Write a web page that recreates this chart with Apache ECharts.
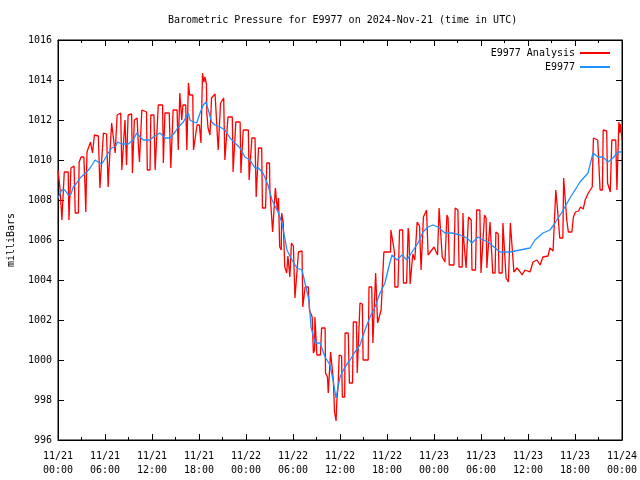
<!DOCTYPE html>
<html>
<head>
<meta charset="utf-8">
<script src="https://cdn.jsdelivr.net/npm/echarts@6/dist/echarts.min.js"></script>
<style>html,body{margin:0;padding:0;background:#fff}#c{width:640px;height:480px}</style>
</head>
<body>
<div id="c"></div>
<script>
// Hours since 2024-11-21 00:00 UTC, pressure in milliBars
var analysisSeries = [[0,1009.5],[0.13,1009.5],[0.25,1008.6],[0.5,1007.0],[0.7,1007.0],[0.8,1009.4],[1.3,1009.4],[1.4,1007.0],[1.55,1007.0],[1.65,1009.6],[2.05,1009.7],[2.2,1007.35],[2.6,1007.35],[2.7,1009.9],[2.95,1010.15],[3.3,1010.15],[3.45,1008.65],[3.55,1007.4],[3.7,1010.4],[4.15,1010.9],[4.4,1010.35],[4.65,1011.25],[5.15,1011.2],[5.35,1008.6],[5.55,1008.6],[5.8,1011.35],[6.2,1011.3],[6.4,1008.65],[6.5,1009.5],[6.85,1011.85],[7.1,1011.8],[7.3,1010.35],[7.55,1012.25],[8.0,1012.35],[8.15,1009.5],[8.35,1009.5],[8.55,1012.0],[8.75,1009.75],[8.95,1012.25],[9.4,1012.3],[9.5,1009.35],[9.65,1009.35],[9.75,1012.0],[10.1,1012.1],[10.25,1010.8],[10.4,1009.9],[10.7,1012.5],[11.3,1012.4],[11.4,1009.5],[11.75,1009.5],[11.85,1012.25],[12.25,1012.25],[12.4,1009.5],[12.65,1009.5],[12.8,1012.75],[13.35,1012.75],[13.45,1009.85],[13.55,1009.85],[13.65,1012.35],[14.2,1012.35],[14.4,1009.6],[14.6,1009.6],[14.7,1012.5],[15.2,1012.5],[15.35,1010.5],[15.5,1010.5],[15.55,1013.35],[15.8,1012.0],[15.95,1012.75],[16.3,1012.75],[16.45,1010.5],[16.55,1010.5],[16.65,1013.85],[16.8,1013.25],[17.2,1013.25],[17.3,1010.5],[17.5,1010.5],[17.75,1011.75],[18.05,1011.75],[18.25,1010.85],[18.45,1014.35],[18.6,1013.9],[18.75,1014.15],[18.95,1013.8],[19.0,1012.35],[19.15,1011.6],[19.4,1011.25],[19.6,1013.1],[20.05,1013.3],[20.45,1010.5],[20.6,1010.5],[20.75,1012.85],[21.15,1013.1],[21.3,1010.0],[21.55,1010.0],[21.7,1012.15],[22.25,1012.15],[22.35,1009.4],[22.6,1009.4],[22.7,1011.9],[23.25,1011.9],[23.35,1009.35],[23.55,1009.35],[23.65,1011.5],[24.3,1011.5],[24.4,1009.0],[24.65,1009.0],[24.75,1011.1],[25.15,1011.1],[25.3,1008.15],[25.45,1008.15],[25.6,1010.6],[26.0,1010.6],[26.1,1007.6],[26.5,1007.6],[26.65,1009.85],[27.0,1009.85],[27.05,1008.5],[27.25,1008.5],[27.4,1006.4],[27.65,1006.4],[27.75,1008.6],[27.95,1008.5],[28.0,1007.5],[28.15,1008.1],[28.3,1005.65],[28.5,1005.5],[28.55,1007.35],[28.75,1006.9],[28.95,1004.65],[29.2,1004.35],[29.35,1005.2],[29.6,1004.15],[29.8,1005.85],[30.05,1005.7],[30.25,1003.1],[30.45,1003.1],[30.7,1005.4],[31.15,1005.45],[31.25,1002.65],[31.4,1002.6],[31.55,1003.65],[31.95,1003.65],[32.1,1002.5],[32.25,1002.5],[32.45,1002.15],[32.6,1000.35],[32.75,1000.5],[32.8,1002.15],[33.0,1002.15],[33.05,1000.25],[33.5,1000.25],[33.65,1001.6],[34.1,1001.6],[34.15,999.35],[34.4,999.15],[34.5,998.35],[34.65,998.35],[34.8,1000.4],[34.95,1000.4],[35.15,999.0],[35.3,997.4],[35.5,996.95],[35.6,998.0],[35.75,998.65],[35.9,1000.25],[36.2,1000.2],[36.3,998.15],[36.6,998.15],[36.65,1001.35],[37.05,1001.35],[37.2,998.85],[37.6,998.85],[37.7,1001.9],[38.1,1001.9],[38.2,999.35],[38.45,999.35],[38.55,1002.85],[38.85,1002.8],[38.95,1000.0],[39.6,1000.0],[39.7,1003.65],[40.05,1003.65],[40.2,1000.85],[40.4,1000.85],[40.55,1004.35],[40.75,1004.35],[40.8,1001.85],[41.05,1001.85],[41.25,1002.5],[41.45,1002.5],[41.6,1005.4],[42.45,1005.4],[42.5,1006.5],[42.75,1006.4],[42.95,1005.4],[43.0,1003.65],[43.4,1003.65],[43.6,1006.5],[44.0,1006.5],[44.1,1003.85],[44.5,1003.85],[44.7,1006.6],[44.8,1006.3],[44.95,1003.8],[45.2,1003.8],[45.3,1005.3],[45.55,1005.0],[45.85,1006.9],[46.15,1006.7],[46.35,1004.5],[46.55,1004.5],[46.65,1007.15],[47.05,1007.5],[47.25,1005.25],[47.5,1005.25],[48.0,1005.65],[48.45,1005.25],[48.65,1007.6],[48.9,1007.6],[49.05,1005.15],[49.4,1004.9],[49.65,1007.25],[49.8,1007.1],[49.95,1004.75],[50.55,1004.75],[50.7,1007.6],[51.05,1007.5],[51.2,1004.65],[51.6,1004.65],[51.7,1007.35],[51.8,1006.0],[52.1,1004.6],[52.3,1004.6],[52.4,1007.15],[52.75,1007.0],[52.85,1004.5],[53.3,1004.5],[53.45,1007.5],[53.85,1007.5],[54.0,1004.35],[54.25,1004.4],[54.45,1007.25],[54.65,1007.1],[54.75,1004.6],[55.0,1004.6],[55.15,1006.9],[55.4,1006.8],[55.5,1004.35],[55.8,1004.35],[55.9,1006.4],[56.2,1006.3],[56.3,1004.35],[56.7,1004.35],[56.8,1006.85],[57.05,1006.85],[57.2,1004.1],[57.5,1003.9],[57.75,1006.85],[58.0,1006.8],[58.2,1004.4],[58.6,1004.6],[59.0,1004.4],[59.25,1004.25],[59.6,1004.5],[60.25,1004.4],[60.65,1004.9],[61.15,1005.0],[61.55,1004.75],[61.9,1005.15],[62.15,1005.25],[62.55,1005.2],[62.8,1005.6],[63.2,1005.45],[63.45,1005.45],[63.55,1008.5],[63.7,1008.5],[63.85,1007.15],[64.05,1006.1],[64.45,1006.1],[64.55,1009.1],[64.8,1009.15],[64.95,1007.0],[65.15,1006.4],[65.6,1006.4],[65.8,1007.15],[66.05,1007.4],[66.45,1007.45],[66.7,1007.65],[67.05,1007.55],[67.3,1008.0],[67.7,1008.35],[68.2,1008.65],[68.35,1011.1],[68.9,1011.0],[69.2,1008.5],[69.5,1008.5],[69.6,1011.5],[70.05,1011.45],[70.15,1008.85],[70.5,1008.4],[70.7,1011.0],[71.2,1011.0],[71.35,1008.5],[71.45,1008.5],[71.6,1011.9],[71.7,1011.35],[71.8,1011.8],[72,1011.0]];

var stationSeries = [[0,1008.1],[0.47,1008.5],[0.89,1008.5],[1.31,1008.25],[1.66,1008.3],[1.95,1008.65],[2.39,1008.85],[2.81,1009.1],[3.23,1009.25],[3.66,1009.4],[4.09,1009.6],[4.51,1009.85],[4.72,1010.0],[5.14,1009.9],[5.58,1009.8],[5.91,1010.0],[6.42,1010.35],[6.86,1010.6],[7.28,1010.65],[7.62,1010.9],[8.13,1010.8],[8.97,1010.8],[9.19,1010.75],[9.61,1011.0],[10.05,1011.35],[10.47,1011.15],[10.89,1011.0],[11.32,1011.0],[11.74,1011.0],[12.17,1011.15],[12.6,1011.25],[13.02,1011.35],[13.66,1011.1],[14.3,1011.1],[14.94,1011.4],[15.36,1011.65],[16.0,1011.9],[16.63,1012.35],[16.85,1012.0],[17.27,1011.9],[17.71,1011.85],[18.13,1012.35],[18.55,1012.75],[18.89,1012.9],[19.19,1012.5],[19.62,1011.9],[20.04,1011.75],[20.68,1011.65],[21.32,1011.5],[21.96,1011.1],[22.6,1010.85],[23.23,1010.6],[23.87,1010.15],[24.51,1010.0],[25.15,1009.6],[25.57,1009.6],[26.17,1009.35],[26.81,1008.75],[27.32,1008.0],[28.09,1007.4],[28.6,1006.85],[29.23,1005.5],[29.87,1005.0],[30.51,1004.6],[31.15,1004.5],[31.53,1003.85],[32.04,1003.0],[32.3,1001.65],[32.81,1000.85],[33.45,1000.85],[34.09,1000.15],[34.72,999.75],[35.11,999.0],[35.49,998.1],[36.0,999.15],[36.64,999.65],[37.28,1000.0],[37.91,1000.4],[38.55,1000.75],[39.19,1001.5],[39.83,1002.15],[40.47,1002.65],[41.11,1003.35],[41.74,1003.85],[42.13,1004.5],[42.64,1005.25],[43.28,1005.0],[43.91,1005.25],[44.55,1005.0],[45.19,1005.4],[45.96,1005.85],[46.6,1006.4],[47.23,1006.65],[47.87,1006.75],[48.51,1006.65],[49.4,1006.35],[50.3,1006.35],[51.32,1006.25],[52.21,1006.1],[52.85,1005.85],[53.62,1006.15],[54.26,1006.0],[54.89,1005.9],[56.43,1005.4],[57.7,1005.4],[58.98,1005.5],[60.26,1005.6],[60.89,1006.0],[61.91,1006.35],[62.81,1006.5],[63.45,1006.85],[64.34,1007.4],[65.36,1008.1],[66.64,1008.9],[67.66,1009.35],[68.3,1010.35],[68.94,1010.15],[69.57,1010.15],[70.21,1009.9],[70.85,1010.1],[71.49,1010.4],[72,1010.4]];

var xTickLabels = ['11/21\n00:00','11/21\n06:00','11/21\n12:00','11/21\n18:00','11/22\n00:00','11/22\n06:00','11/22\n12:00','11/22\n18:00','11/23\n00:00','11/23\n06:00','11/23\n12:00','11/23\n18:00','11/24\n00:00'];
var seriesNames = ['E9977 Analysis', 'E9977'];
var titleText = 'Barometric Pressure for E9977 on 2024-Nov-21 (time in UTC)';

var FONT = 'DejaVu Sans Mono';
var chart = echarts.init(document.getElementById('c'), null, {renderer: 'canvas'});
var axisCommon = {
  axisLine: {show: true, onZero: false, lineStyle: {color: '#000', width: 1}},
  axisTick: {show: true, inside: true, length: 6, lineStyle: {color: '#000'}},
  minorTick: {show: true, splitNumber: 2, length: 3, lineStyle: {color: '#000'}},
  splitLine: {show: false}
};
function merge(a, b) { var o = {}; for (var k in a) o[k] = a[k]; for (var k2 in b) o[k2] = b[k2]; return o; }

chart.setOption({
  animation: false,
  backgroundColor: '#fff',
  title: {
    text: titleText, left: 163, top: 10,
    textStyle: {fontFamily: FONT, fontSize: 10, fontWeight: 'normal', color: '#000'}
  },
  legend: [
    {data: [seriesNames[0]], right: 25, top: 43, orient: 'vertical', align: 'right', itemWidth: 30, itemHeight: 2, icon: 'rect',
     textStyle: {fontFamily: FONT, fontSize: 10, color: '#000'}},
    {data: [seriesNames[1]], right: 25, top: 57, orient: 'vertical', align: 'right', itemWidth: 30, itemHeight: 2, icon: 'rect',
     textStyle: {fontFamily: FONT, fontSize: 10, color: '#000'}}
  ],
  grid: {left: 58, right: 18, top: 40, bottom: 40, show: true, borderColor: '#000', borderWidth: 1,
         containLabel: false, outerBoundsMode: 'none'},
  xAxis: [
    merge(axisCommon, {type: 'value', min: 0, max: 72, interval: 6, position: 'bottom',
      axisLabel: {fontFamily: FONT, fontSize: 10, color: '#000', margin: 9, lineHeight: 14,
        formatter: function (v) { return xTickLabels[Math.round(v / 6)]; }}}),
    merge(axisCommon, {type: 'value', min: 0, max: 72, interval: 6, position: 'top', axisLabel: {show: false}})
  ],
  yAxis: [
    merge(axisCommon, {type: 'value', min: 996, max: 1016, interval: 2, position: 'left',
      minorTick: {show: false},
      name: 'milliBars', nameLocation: 'middle', nameRotate: 90, nameGap: 42,
      nameTextStyle: {fontFamily: FONT, fontSize: 10, color: '#000'},
      axisLabel: {fontFamily: FONT, fontSize: 10, color: '#000', margin: 6,
        formatter: function (v) { return String(v); }}}),
    merge(axisCommon, {type: 'value', min: 996, max: 1016, interval: 2, position: 'right',
      minorTick: {show: false}, axisLabel: {show: false}})
  ],
  series: [
    {name: seriesNames[0], type: 'line', data: analysisSeries, showSymbol: false, symbol: 'none',
     color: '#ff0000', lineStyle: {color: '#ff0000', width: 1.3}, clip: true},
    {name: seriesNames[1], type: 'line', data: stationSeries, showSymbol: false, symbol: 'none',
     color: '#1e90ff', lineStyle: {color: '#1e90ff', width: 1.3}, clip: true}
  ]
});
</script>
</body>
</html>
